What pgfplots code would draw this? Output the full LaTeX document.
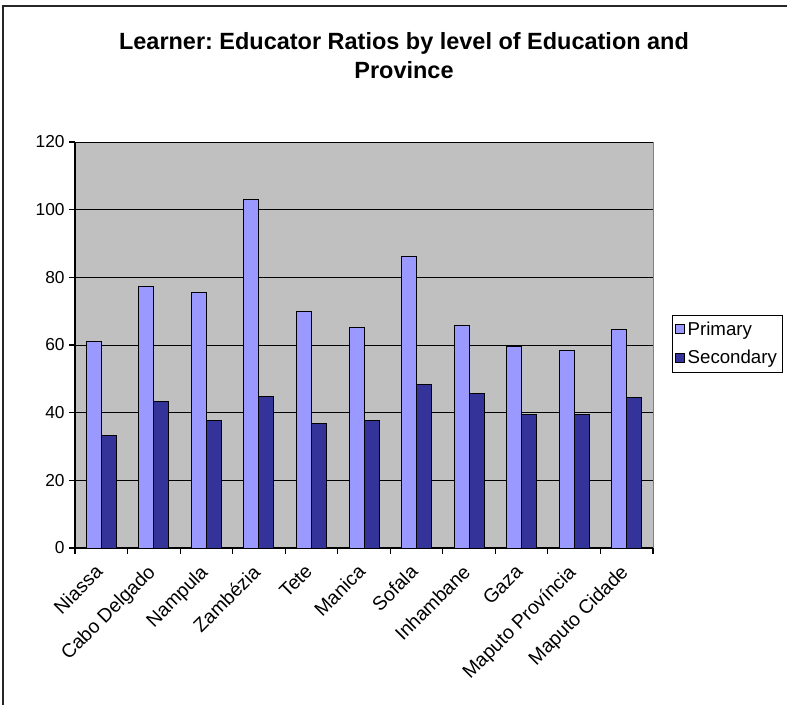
\documentclass[border=0pt]{standalone}
\usepackage{fontspec}
\setmainfont{Liberation Sans}
\usepackage{pgfplots}
\pgfplotsset{compat=1.18}
\definecolor{prim}{HTML}{9999FF}
\definecolor{sec}{HTML}{333399}
\definecolor{plotbg}{HTML}{C0C0C0}
\frenchspacing
\newcommand\tickfont{\fontsize{13}{15.6}\selectfont}
\newcommand\xtickfont{\fontsize{14.5}{17}\selectfont}
\begin{document}
\begin{tikzpicture}
\path[use as bounding box] (0,0) rectangle (590.25pt,-528pt);
\draw[line width=1.1pt, black!85] (2.25pt,-535pt) -- (2.25pt,-4.5pt) -- (600pt,-4.5pt);
\node[font=\fontsize{17.6}{22}\selectfont\bfseries, anchor=base] at (303pt,-36.75pt) {Learner: Educator Ratios by level of Education and};
\node[font=\fontsize{17.6}{22}\selectfont\bfseries, anchor=base] at (303pt,-58.7pt) {Province};
\begin{axis}[
  at={(56.25pt,-411pt)}, anchor=south west,
  scale only axis, width=433.5pt, height=304.5pt,
  xmin=-0.5, xmax=10.5, ymin=0, ymax=120,
  ybar=0pt, bar width=11.25pt,
  axis background/.style={fill=plotbg, draw=gray},
  axis lines*=left,
  axis line style={black, line width=0.8pt},
  ytick={0,20,...,120},
  ymajorgrids, grid style={black, line width=0.6pt},
  xtick={-0.5,0.5,...,10.5},
  xticklabels={},
  extra x ticks={0,...,10},
  extra x tick labels={Niassa, Cabo Delgado, Nampula, Zambézia, Tete, Manica, Sofala, Inhambane, Gaza, Maputo Província, Maputo Cidade},
  extra x tick style={major tick length=0pt, grid=none,
    xticklabel style={font=\xtickfont, rotate=45, anchor=north east, inner sep=1pt, xshift=-11pt, yshift=-3pt}},
  tick align=outside,
  major tick length=4.3pt,
  tick style={black, line width=0.8pt},
  yticklabel style={font=\tickfont},
  /pgf/number format/assume math mode=true,
  legend style={at={(1,0.503)}, anchor=west, xshift=14.25pt, draw=black, fill=white,
    font=\fontsize{14}{16}\selectfont, cells={anchor=west}, row sep=6pt,
    inner xsep=2pt, inner ysep=3pt},
]
\addplot[fill=prim, draw=black, line width=0.75pt,
  legend image code/.code={\draw[fill=prim, draw=black, line width=0.75pt] (0pt,-3.4pt) rectangle (6.8pt,3.4pt);}]
  coordinates {(0,61.0) (1,77.3) (2,75.5) (3,102.9) (4,69.8) (5,65.3) (6,86.1) (7,65.8) (8,59.6) (9,58.4) (10,64.6)};
\addplot[fill=sec, draw=black, line width=0.75pt,
  legend image code/.code={\draw[fill=sec, draw=black, line width=0.75pt] (0pt,-3.4pt) rectangle (6.8pt,3.4pt);}]
  coordinates {(0,33.3) (1,43.4) (2,37.6) (3,44.7) (4,36.8) (5,37.6) (6,48.3) (7,45.7) (8,39.5) (9,39.5) (10,44.4)};
\legend{Primary, Secondary}
\end{axis}
\end{tikzpicture}
\end{document}
